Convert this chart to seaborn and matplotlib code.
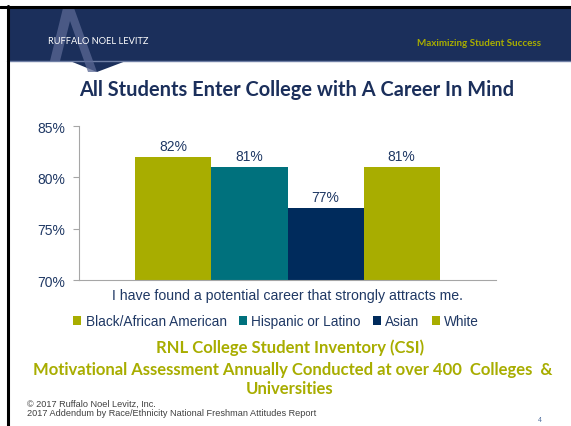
import matplotlib
matplotlib.use("Agg")
import matplotlib.pyplot as plt
import seaborn as sns
import pandas as pd
from matplotlib.patches import Polygon, Rectangle

# ---- data ----
question = ["I have found a potential career that strongly attracts me."]
groups = ["Black/African American", "Hispanic or Latino", "Asian", "White"]
values = [82, 81, 77, 81]
colors = ["#a8ad00", "#00717d", "#002b5c", "#a8ad00"]
y_ticks = [70, 75, 80, 85]
y_tick_labels = ["70%", "75%", "80%", "85%"]

df = pd.DataFrame({"question": question * len(groups), "group": groups, "value": values})

sns.set_theme(style="white")
plt.rcParams['font.family'] = ['Liberation Sans', 'DejaVu Sans']

NAVY = "#1b2f5b"
OLIVE = "#a8ad00"
TXT = "#1f3864"

fig = plt.figure(figsize=(5.71, 4.27), dpi=100)
fig.patch.set_facecolor("white")

# header band
fig.add_artist(Rectangle((0.0125, 1 - 62/427), 1.0, (62-9)/427, transform=fig.transFigure,
                         facecolor=NAVY, edgecolor="none", zorder=1))
# chevron under header
fig.add_artist(Polygon([[70/571, 1-62/427], [126/571, 1-62/427], [97/571, 1-73/427]],
                       closed=True, transform=fig.transFigure, facecolor=NAVY, edgecolor="none", zorder=1))
fig.add_artist(plt.Line2D([0.0125, 1.0], [1-62/427, 1-62/427], transform=fig.transFigure,
                          color="#6f7fa5", lw=1.0, zorder=2))
# logo "A" light shape
fig.add_artist(Polygon([[63/571, 1-9/427], [74/571, 1-9/427], [97/571, 1-73/427], [88/571, 1-73/427],
                        [70/571, 1-22/427], [60/571, 1-62/427], [50/571, 1-62/427]],
                       closed=True, transform=fig.transFigure, facecolor="#5a6894", alpha=0.75,
                       edgecolor="none", zorder=2))
# black frame lines
fig.add_artist(plt.Line2D([0, 1], [1-7.5/427, 1-7.5/427], transform=fig.transFigure, color="black", lw=2.2, zorder=3))
fig.add_artist(plt.Line2D([8/571, 8/571], [0, 1-7/427], transform=fig.transFigure, color="black", lw=2.2, zorder=3))

fig.text(48/571, 1-42/427, "RUFFALO NOEL LEVITZ", color="white", fontsize=6.7,
         family=["Lato", "DejaVu Sans"], ha="left", va="center", zorder=4)
fig.text(541/571, 1-43/427, "Maximizing Student Success", color=OLIVE, fontsize=7.1, fontweight="bold",
         family=["Lato", "DejaVu Sans"], ha="right", va="center", zorder=4)

# title
fig.text(297/571, 1-90/427, "All Students Enter College with A Career In Mind", color=NAVY,
         fontsize=14.4, fontweight="bold", family=["Lato", "DejaVu Sans"], ha="center", va="center")

# axes
ax = fig.add_axes([79/571, 1-281/427, (496-79)/571, (281-127)/427])
sns.barplot(data=df, x="question", y="value", hue="group", palette=dict(zip(groups, colors)),
            width=0.73, saturation=1, ax=ax, legend=True, edgecolor="none")
ax.set_ylim(70, 85)
ax.set_yticks(y_ticks)
ax.set_yticklabels(y_tick_labels, color=TXT, fontsize=10)
ax.set_xlim(-0.5, 0.5)
ax.set_xlabel("")
ax.set_ylabel("")
ax.set_xticks([0])
ax.set_xticklabels(question, color=TXT, fontsize=10.2)
ax.tick_params(axis="x", length=0, pad=6)
ax.tick_params(axis="y", length=4, color="#a6a6a6", width=0.8, pad=6, left=True, direction="out")
for s in ["top", "right"]:
    ax.spines[s].set_visible(False)
for s in ["left", "bottom"]:
    ax.spines[s].set_color("#a6a6a6")
    ax.spines[s].set_linewidth(0.8)
ax.patch.set_alpha(0)

for cont in ax.containers:
    ax.bar_label(cont, labels=[f"{v:.0f}%" for v in cont.datavalues], color=TXT, fontsize=10, padding=3)

handles, labels = ax.get_legend_handles_labels()
ax.get_legend().remove()
fig.legend(handles, labels, loc="center", bbox_to_anchor=(276/571, 1-322/427), ncol=4, frameon=False,
           fontsize=9.8, handlelength=0.6, handleheight=0.6, handletextpad=0.3, columnspacing=0.9,
           labelcolor=TXT, borderpad=0)

# green texts
fig.text(290/571, 1-348/427, "RNL College Student Inventory (CSI)", color=OLIVE, fontsize=12,
         fontweight="bold", family=["Lato", "DejaVu Sans"], ha="center", va="center")
fig.text(293/571, 1-370/427, "Motivational Assessment Annually Conducted at over 400  Colleges  &",
         color=OLIVE, fontsize=12, fontweight="bold", family=["Lato", "DejaVu Sans"], ha="center", va="center")
fig.text(290/571, 1-389/427, "Universities", color=OLIVE, fontsize=12,
         fontweight="bold", family=["Lato", "DejaVu Sans"], ha="center", va="center")

fig.text(27/571, 1-404/427, "© 2017 Ruffalo Noel Levitz, Inc.", color="#404040", fontsize=6.6, ha="left", va="center")
fig.text(27/571, 1-414/427, "2017 Addendum by Race/Ethnicity National Freshman Attitudes Report", color="#404040",
         fontsize=6.6, ha="left", va="center")
fig.text(540/571, 1-421/427, "4", color="#4f6f9f", fontsize=5, ha="center", va="center")

fig.savefig("out.png", dpi=100, facecolor="white")
